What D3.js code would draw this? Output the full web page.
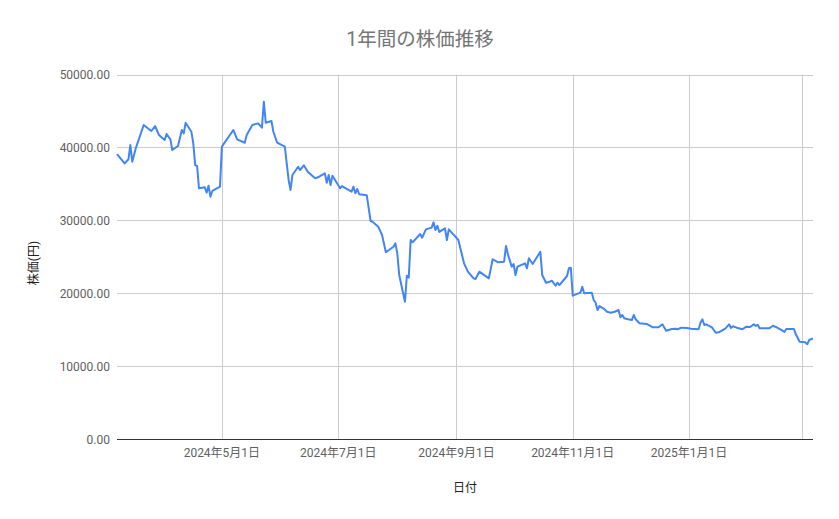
<!DOCTYPE html>
<html><head><meta charset="utf-8">
<script src="https://cdn.jsdelivr.net/npm/d3@7"></script>
<style>body{margin:0;background:#fff}text{font-family:Roboto,"Noto Sans CJK JP",sans-serif}</style>
</head><body><svg id="c" width="839" height="519"></svg>
<script>
const title = "1年間の株価推移";
const yTitle = "株価(円)";
const xTitle = "日付";
const yTicks = [0, 10000, 20000, 30000, 40000, 50000];
const xTickDates = ["2024-05-01","2024-07-01","2024-09-01","2024-11-01","2025-01-01","2025-03-01"];
const xTickLabels = ["2024年5月1日","2024年7月1日","2024年9月1日","2024年11月1日","2025年1月1日",""];
const dates = ["2024-03-07","2024-03-11","2024-03-13","2024-03-14","2024-03-15","2024-03-17","2024-03-21","2024-03-25","2024-03-27","2024-03-29",
"2024-04-01","2024-04-02","2024-04-04","2024-04-05","2024-04-08","2024-04-10","2024-04-11","2024-04-12","2024-04-15","2024-04-16",
"2024-04-17","2024-04-18","2024-04-19","2024-04-22","2024-04-23","2024-04-24","2024-04-25","2024-04-26","2024-04-30","2024-05-01",
"2024-05-07","2024-05-09","2024-05-13","2024-05-14","2024-05-17","2024-05-20","2024-05-22","2024-05-23","2024-05-24","2024-05-27",
"2024-05-28","2024-05-30","2024-06-03","2024-06-04","2024-06-05","2024-06-06","2024-06-07","2024-06-10","2024-06-11","2024-06-13",
"2024-06-15","2024-06-18","2024-06-19","2024-06-21","2024-06-24","2024-06-25","2024-06-26","2024-06-27","2024-06-28","2024-07-02",
"2024-07-03","2024-07-05","2024-07-08","2024-07-09","2024-07-10","2024-07-11","2024-07-12","2024-07-16","2024-07-18","2024-07-19",
"2024-07-22","2024-07-24","2024-07-26","2024-07-30","2024-07-31","2024-08-01","2024-08-02","2024-08-05","2024-08-06","2024-08-07",
"2024-08-08","2024-08-09","2024-08-13","2024-08-14","2024-08-16","2024-08-19","2024-08-20","2024-08-21","2024-08-22","2024-08-23",
"2024-08-26","2024-08-27","2024-08-28","2024-08-31","2024-09-02","2024-09-05","2024-09-07","2024-09-10","2024-09-11","2024-09-13",
"2024-09-18","2024-09-20","2024-09-23","2024-09-26","2024-09-27","2024-09-28","2024-09-30","2024-10-01","2024-10-02","2024-10-03",
"2024-10-07","2024-10-08","2024-10-09","2024-10-11","2024-10-15","2024-10-16","2024-10-18","2024-10-20","2024-10-21","2024-10-23",
"2024-10-24","2024-10-25","2024-10-29","2024-10-30","2024-10-31","2024-11-01","2024-11-05","2024-11-06","2024-11-07","2024-11-11",
"2024-11-12","2024-11-13","2024-11-14","2024-11-15","2024-11-17","2024-11-19","2024-11-21","2024-11-23","2024-11-25","2024-11-26",
"2024-11-27","2024-11-28","2024-11-30","2024-12-02","2024-12-03","2024-12-04","2024-12-06","2024-12-10","2024-12-13","2024-12-16",
"2024-12-18","2024-12-20","2024-12-23","2024-12-25","2024-12-26","2024-12-28","2024-12-31","2025-01-02","2025-01-06","2025-01-07",
"2025-01-08","2025-01-09","2025-01-10","2025-01-13","2025-01-15","2025-01-17","2025-01-20","2025-01-22","2025-01-23","2025-01-24",
"2025-01-26","2025-01-29","2025-01-31","2025-02-02","2025-02-04","2025-02-05","2025-02-06","2025-02-07","2025-02-12","2025-02-14",
"2025-02-16","2025-02-19","2025-02-20","2025-02-21","2025-02-25","2025-02-26","2025-02-28","2025-03-03","2025-03-04","2025-03-05",
"2025-03-07"];
const prices = [39090,37800,38370,40330,38040,40010,43070,42250,42930,41700,
41010,41840,41110,39640,40190,42390,41930,43390,42150,40560,
37580,37450,34390,34530,33790,34750,33240,34020,34610,40100,
42390,41110,40640,41700,43070,43300,42700,46270,43390,43620,
42150,40640,40100,37820,35530,34160,36210,37350,36900,37540,
36670,35980,35760,35980,36440,35160,36210,34840,36120,34390,
34700,34390,33920,34610,33700,34290,33570,33430,29900,29810,
29120,27980,25610,26380,26840,25470,22500,18830,22400,22130,
27300,26980,28120,27610,28760,28990,29720,28670,29260,28400,
28900,27300,28760,27890,27300,24100,22950,22040,21950,22950,
22040,24650,24240,24330,26480,25340,23640,24010,22500,23640,
24100,23420,24790,24010,25690,22500,21440,21580,21720,21030,
21440,21120,22360,23420,23500,19660,20070,20890,19990,20070,
19070,18700,17700,18240,17930,17460,17320,17460,17700,16690,
17010,16560,16420,16320,17010,16420,15870,15770,15320,15320,
15730,14860,15090,15130,15050,15270,15230,15130,15050,15950,
16420,15640,15730,15320,14580,14680,15130,15730,15230,15460,
15270,15050,15410,15360,15730,15500,15680,15180,15180,15540,
15320,14860,14680,15090,15090,14360,13350,13260,12990,13580,
13810];

const parse = d3.timeParse("%Y-%m-%d");
const data = dates.map((d,i)=>({date:parse(d), value:prices[i]}));
const svg = d3.select("#c");
const L=117, R=813, T=74.5, B=439;
const x = d3.scaleTime().domain([parse("2024-03-07"), parse("2025-03-07")]).range([L,R]);
const y = d3.scaleLinear().domain([0,50000]).range([B,T]);

// horizontal grid
svg.append("g").selectAll("line").data(yTicks.filter(t=>t>0)).join("line")
  .attr("x1",L).attr("x2",R).attr("y1",d=>Math.round(y(d))+0.5).attr("y2",d=>Math.round(y(d))+0.5)
  .attr("stroke","#cccccc").attr("stroke-width",1);
// vertical grid
svg.append("g").selectAll("line").data(xTickDates).join("line")
  .attr("x1",d=>Math.round(x(parse(d)))+0.5).attr("x2",d=>Math.round(x(parse(d)))+0.5)
  .attr("y1",T).attr("y2",B).attr("stroke","#cccccc").attr("stroke-width",1);

// y labels
svg.append("g").selectAll("text").data(yTicks).join("text")
  .attr("x",110).attr("y",d=>y(d)+4.5).attr("text-anchor","end")
  .attr("font-size",12).attr("fill","#5f5f5f").text(d=>d3.format(".2f")(d));
// x labels
svg.append("g").selectAll("text").data(xTickDates).join("text")
  .attr("x",d=>x(parse(d))).attr("y",457).attr("text-anchor","middle")
  .attr("font-size",12).attr("fill","#5f5f5f").text((d,i)=>xTickLabels[i]);

// line
svg.append("path").datum(data)
  .attr("d", d3.line().x(d=>x(d.date)).y(d=>y(d.value)))
  .attr("fill","none").attr("stroke","#4285f4").attr("stroke-width",2).attr("stroke-linejoin","round");

// baseline
svg.append("line").attr("x1",L).attr("x2",R).attr("y1",B+0.5).attr("y2",B+0.5).attr("stroke","#333").attr("stroke-width",1);

// titles
svg.append("text").attr("x",420).attr("y",45.5).attr("text-anchor","middle").attr("font-size",19.5).attr("fill","#757575").text(title);
svg.append("text").attr("x",465).attr("y",492).attr("text-anchor","middle").attr("font-size",12).attr("fill","#222").text(xTitle);
svg.append("text").attr("transform","translate(38,263) rotate(-90)").attr("text-anchor","middle").attr("font-size",12).attr("fill","#222").text(yTitle);
</script></body></html>
